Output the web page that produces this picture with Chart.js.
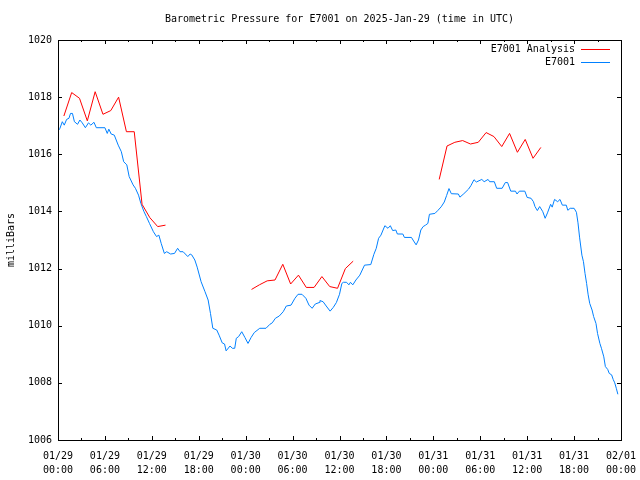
<!DOCTYPE html>
<html>
<head>
<meta charset="utf-8">
<script src="https://cdn.jsdelivr.net/npm/chart.js@4/dist/chart.umd.min.js"></script>
<style>
  html, body { margin: 0; padding: 0; background: #fff; }
  canvas { display: block; }
</style>
</head>
<body>
<canvas id="myChart" width="640" height="480"></canvas>
<script>
// hours since 2025-01-29 00:00 UTC
var obsHours = [0.1, 0.25, 0.55, 0.8, 1.1, 1.4, 1.6, 1.85, 2.1, 2.5, 2.8, 3.1, 3.5, 3.9, 4.2, 4.6, 4.9, 6.0, 6.3, 6.5,
  6.8, 7.2, 7.7, 8.1, 8.4, 8.8, 9.1, 9.6, 9.9, 10.3, 10.6, 11.0, 11.3, 11.7, 12.2, 12.6, 12.9, 13.2, 13.6, 13.9,
  14.4, 14.9, 15.3, 15.6, 16.0, 16.6, 16.9, 17.1, 17.5, 17.8, 18.3, 18.8, 19.2, 19.5, 19.8, 20.3, 20.6, 21.0, 21.3, 21.5,
  22.0, 22.3, 22.6, 22.8, 23.1, 23.5, 23.9, 24.3, 24.7, 25.1, 25.8, 26.6, 27.1, 27.4, 27.8, 28.3, 28.8, 29.2, 29.8, 30.3,
  30.7, 31.2, 31.7, 32.1, 32.5, 32.9, 33.4, 33.5, 33.9, 34.3, 34.8, 35.2, 35.6, 36.0, 36.3, 36.5, 36.9, 37.2, 37.4, 37.7,
  38.1, 38.6, 39.2, 40.0, 40.4, 40.7, 41.0, 41.3, 41.8, 42.2, 42.5, 42.8, 43.2, 43.4, 44.1, 44.3, 45.2, 45.4, 45.8, 46.1,
  46.4, 46.7, 47.0, 47.3, 47.5, 48.2, 48.6, 49.0, 49.4, 49.7, 50.0, 50.3, 51.2, 51.4, 51.9, 52.5, 52.8, 53.2, 53.5, 54.2,
  54.5, 55.0, 55.2, 55.8, 56.1, 56.8, 57.2, 57.5, 57.9, 58.5, 58.7, 59.0, 59.7, 60.0, 60.5, 60.8, 61.0, 61.3, 61.6, 62.0,
  62.3, 62.6, 63.0, 63.2, 63.5, 63.9, 64.2, 64.5, 65.0, 65.2, 65.5, 66.0, 66.3, 66.5, 66.7, 67.0, 67.2, 67.4, 67.6, 67.8,
  68.0, 68.3, 68.5, 68.8, 69.0, 69.3, 69.5, 69.8, 70.0, 70.3, 70.5, 70.8, 71.0, 71.2, 71.4, 71.6];
var obsPressure = [1016.85, 1016.91, 1017.14, 1017.02, 1017.22, 1017.26, 1017.43, 1017.43, 1017.14, 1017.05, 1017.2, 1017.1, 1016.93, 1017.1, 1017.02, 1017.12, 1016.93, 1016.93, 1016.73, 1016.88,
  1016.71, 1016.67, 1016.32, 1016.09, 1015.74, 1015.63, 1015.22, 1014.93, 1014.81, 1014.57, 1014.28, 1013.99, 1013.82, 1013.58, 1013.29, 1013.12, 1013.17, 1012.88, 1012.53, 1012.59,
  1012.51, 1012.53, 1012.71, 1012.59, 1012.59, 1012.42, 1012.51, 1012.48, 1012.3, 1012.05, 1011.54, 1011.19, 1010.9, 1010.43, 1009.91, 1009.85, 1009.67, 1009.4, 1009.36, 1009.12,
  1009.29, 1009.21, 1009.21, 1009.56, 1009.62, 1009.79, 1009.59, 1009.38, 1009.59, 1009.76, 1009.91, 1009.91, 1010.05, 1010.1, 1010.26, 1010.34, 1010.49, 1010.69, 1010.72, 1010.96,
  1011.1, 1011.1, 1010.96, 1010.72, 1010.61, 1010.76, 1010.81, 1010.88, 1010.84, 1010.69, 1010.51, 1010.64, 1010.81, 1011.1, 1011.48, 1011.52, 1011.52, 1011.43, 1011.52, 1011.43,
  1011.6, 1011.77, 1012.12, 1012.14, 1012.5, 1012.71, 1013.06, 1013.17, 1013.5, 1013.41, 1013.5, 1013.33, 1013.35, 1013.21, 1013.21, 1013.09, 1013.09, 1013.0, 1012.83, 1013.0,
  1013.35, 1013.47, 1013.52, 1013.58, 1013.9, 1013.93, 1014.04, 1014.16, 1014.33, 1014.56, 1014.8, 1014.62, 1014.61, 1014.5, 1014.62, 1014.78, 1014.9, 1015.11, 1015.03, 1015.12,
  1015.04, 1015.12, 1015.04, 1015.04, 1014.81, 1014.81, 1015.01, 1015.01, 1014.71, 1014.71, 1014.61, 1014.71, 1014.71, 1014.49, 1014.46, 1014.34, 1014.17, 1014.03, 1014.17, 1013.99,
  1013.76, 1013.95, 1014.25, 1014.15, 1014.42, 1014.34, 1014.42, 1014.22, 1014.22, 1014.04, 1014.11, 1014.11, 1013.97, 1013.6, 1013.1, 1012.47, 1012.24, 1011.83, 1011.48, 1011.08,
  1010.78, 1010.55, 1010.32, 1010.08, 1009.73, 1009.38, 1009.21, 1008.91, 1008.57, 1008.47, 1008.33, 1008.28, 1008.12, 1008.0, 1007.81, 1007.6];

// hourly analysis, null = gap
var analysisHours = [0.75, 1.75, 2.75, 3.75, 4.75, 5.75, 6.75, 7.75, 8.75, 9.75, 10.75, 11.75, 12.75, 13.75, 19,
  24.75, 25.75, 26.75, 27.75, 28.75, 29.75, 30.75, 31.75, 32.75, 33.75, 34.75, 35.75, 36.75, 37.75, 43,
  48.75, 49.75, 50.75, 51.75, 52.75, 53.75, 54.75, 55.75, 56.75, 57.75, 58.75, 59.75, 60.75, 61.75];
var analysisPressure = [1017.34, 1018.16, 1017.96, 1017.17, 1018.19, 1017.4, 1017.53, 1018.0, 1016.79, 1016.79, 1014.25, 1013.78, 1013.47, 1013.52, null,
  1011.27, 1011.43, 1011.57, 1011.6, 1012.15, 1011.46, 1011.77, 1011.34, 1011.34, 1011.72, 1011.37, 1011.31, 1012.0, 1012.26, null,
  1015.12, 1016.29, 1016.42, 1016.48, 1016.36, 1016.42, 1016.76, 1016.62, 1016.27, 1016.73, 1016.07, 1016.52, 1015.86, 1016.24];

var dayLabels = ['01/29', '01/30', '01/31', '02/01'];
var seriesNames = ['E7001 Analysis', 'E7001'];
var seriesColors = ['#ff0000', '#0080ff'];
var titleText = 'Barometric Pressure for E7001 on 2025-Jan-29 (time in UTC)';
var yAxisTitle = 'milliBars';

var FONT = '"DejaVu Sans Mono", "Liberation Mono", monospace';

function pairs(xs, ys) {
  return xs.map(function (x, i) { return { x: x, y: ys[i] }; });
}

// gnuplot-like frame, inward ticks, title, y label and legend
var gnuplotLook = {
  id: 'gnuplotLook',
  afterDatasetsDraw: function (chart) {
    var c = chart.ctx, a = chart.chartArea;
    var xs = chart.scales.x, ys = chart.scales.y;
    c.save();
    c.strokeStyle = '#000';
    c.lineWidth = 1;
    c.beginPath();
    for (var h = 0; h <= 72; h += 3) {
      var px = Math.round(xs.getPixelForValue(h)) + 0.5;
      var len = h % 6 === 0 ? 4 : 2;
      c.moveTo(px, a.bottom); c.lineTo(px, a.bottom - len);
      c.moveTo(px, a.top); c.lineTo(px, a.top + len);
    }
    for (var v = 1006; v <= 1020; v += 2) {
      var py = Math.round(ys.getPixelForValue(v)) + 0.5;
      c.moveTo(a.left, py); c.lineTo(a.left + 4, py);
      c.moveTo(a.right, py); c.lineTo(a.right - 4, py);
    }
    c.stroke();
    c.strokeRect(a.left + 0.5, a.top + 0.5, a.right - a.left, a.bottom - a.top);

    c.fillStyle = '#000';
    c.font = '10px ' + FONT;
    c.textAlign = 'center';
    c.textBaseline = 'middle';
    c.fillText(titleText, (a.left + a.right) / 2, 19);

    c.save();
    c.translate(11, 240);
    c.rotate(-Math.PI / 2);
    c.fillText(yAxisTitle, 0, 0);
    c.restore();

    c.textAlign = 'right';
    for (var i = 0; i < seriesNames.length; i++) {
      var ly = 49 + i * 13;
      c.fillStyle = '#000';
      c.fillText(seriesNames[i], 575, ly);
      c.strokeStyle = seriesColors[i];
      c.beginPath();
      c.moveTo(581, Math.round(ly) + 0.5);
      c.lineTo(610, Math.round(ly) + 0.5);
      c.stroke();
    }
    c.restore();
  }
};

var ctx = document.getElementById('myChart').getContext('2d');
var chart = new Chart(ctx, {
  type: 'line',
  data: {
    datasets: [{
      label: seriesNames[0],
      data: pairs(analysisHours, analysisPressure),
      borderColor: seriesColors[0],
      borderWidth: 1,
      pointRadius: 0,
      tension: 0,
      spanGaps: false
    }, {
      label: seriesNames[1],
      data: pairs(obsHours, obsPressure),
      borderColor: seriesColors[1],
      borderWidth: 1,
      pointRadius: 0,
      tension: 0
    }]
  },
  options: {
    responsive: false,
    animation: false,
    devicePixelRatio: 1,
    layout: { padding: { left: 0, top: 40, right: 19, bottom: 0 } },
    plugins: {
      legend: { display: false },
      title: { display: false },
      tooltip: { enabled: false }
    },
    scales: {
      x: {
        type: 'linear',
        min: 0,
        max: 72,
        grid: { display: false, drawTicks: false },
        border: { display: false },
        ticks: {
          stepSize: 6,
          autoSkip: false,
          maxRotation: 0,
          padding: 9,
          color: '#000',
          font: { family: FONT, size: 10, lineHeight: 1.4 },
          callback: function (v) {
            var hh = v % 24;
            return [dayLabels[Math.floor(v / 24)], (hh < 10 ? '0' : '') + hh + ':00'];
          }
        },
        afterFit: function (s) {
          s.height = 40;
          s.paddingLeft = 0;
          s.paddingRight = 0;
        }
      },
      y: {
        min: 1006,
        max: 1020,
        grid: { display: false, drawTicks: false },
        border: { display: false },
        ticks: {
          stepSize: 2,
          padding: 6,
          color: '#000',
          font: { family: FONT, size: 10 },
          callback: function (v) { return String(v); }
        },
        afterFit: function (s) {
          s.width = 58;
          s.paddingTop = 0;
          s.paddingBottom = 0;
        }
      }
    }
  },
  plugins: [gnuplotLook]
});
</script>
</body>
</html>
